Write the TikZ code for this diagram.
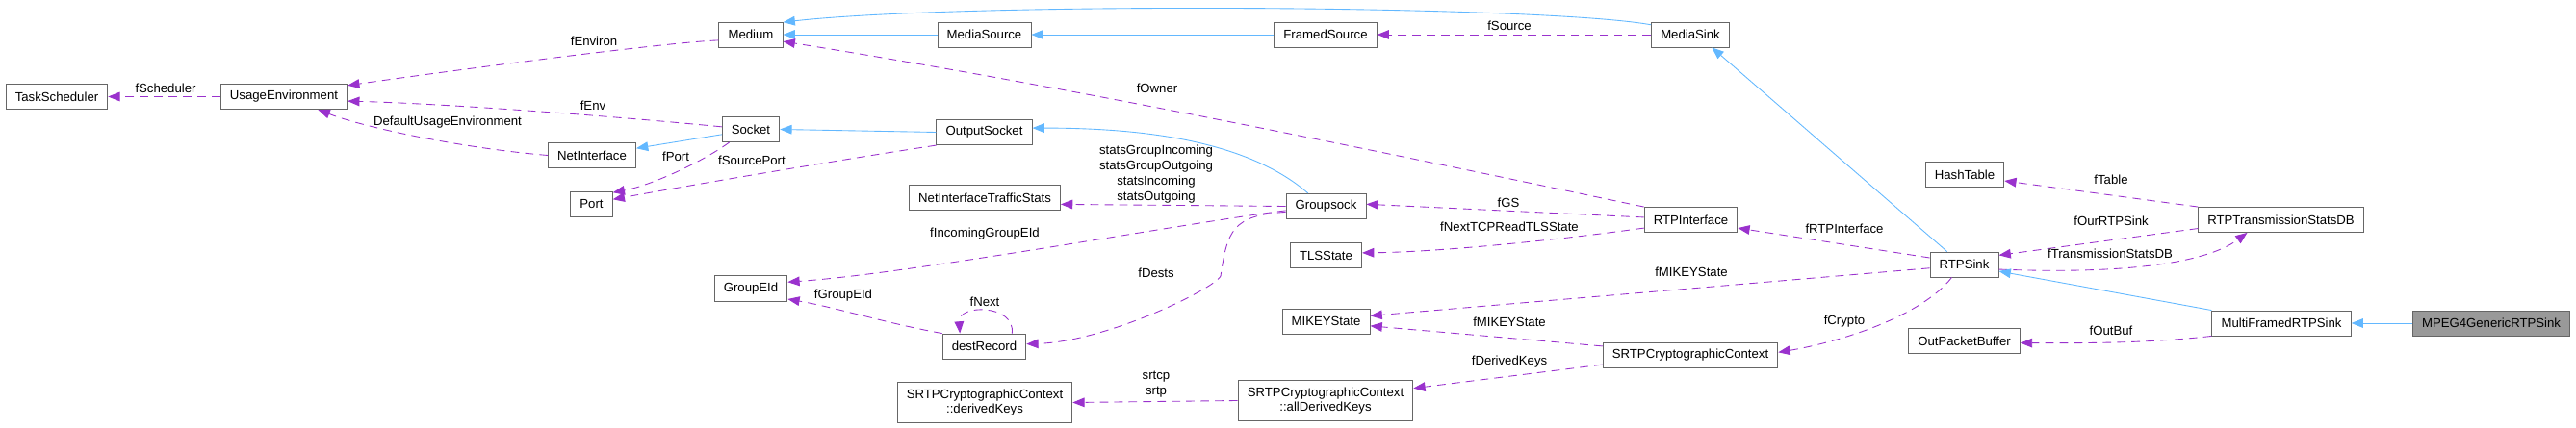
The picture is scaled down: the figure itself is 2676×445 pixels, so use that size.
\documentclass[tikz,border=0pt]{standalone}
\usepackage{fontspec}
\setmainfont{Liberation Sans}
\usepackage{xcolor}
\usepackage{tikz}
\usetikzlibrary{arrows.meta}
\definecolor{memc}{HTML}{9A32CD}
\definecolor{inhc}{HTML}{63B8FF}
\definecolor{framec}{HTML}{666666}
\definecolor{selfc}{HTML}{999999}
\tikzset{
  cls/.style={draw=framec,fill=white,line width=0.5pt,font=\fontsize{7.5}{9}\selectfont,align=center,inner xsep=5.5pt,inner ysep=4pt,minimum height=0.52cm},
  selfcls/.style={cls,fill=selfc},
  inh/.style={-{Triangle[length=7pt,width=5.5pt]},inhc,line width=0.5pt},
  mem/.style={-{Triangle[length=7pt,width=5.5pt]},memc,line width=0.5pt,dash pattern=on 5pt off 3.5pt},
  lbl/.style={font=\fontsize{7.5}{9}\selectfont,align=center,inner sep=0pt}
}

\begin{document}
\begin{tikzpicture}[x=0.02cm,y=-0.02cm]
\useasboundingbox (0,0) rectangle (2676,445);
\node[cls] (ts) at (59,100.5) {TaskScheduler};
\node[cls] (uenv) at (295,100.5) {UsageEnvironment};
\node[cls] (medium) at (780,36) {Medium};
\node[cls] (socket) at (780,134.5) {Socket};
\node[cls] (netif) at (615,161.5) {NetInterface};
\node[cls] (port) at (614.5,212) {Port};
\node[cls] (geid) at (780,300) {GroupEId};
\node[cls] (msrc) at (1022.5,36) {MediaSource};
\node[cls] (osock) at (1022.5,137.5) {OutputSocket};
\node[cls] (nits) at (1023,205.5) {NetInterfaceTrafficStats};
\node[cls] (drec) at (1022.5,360) {destRecord};
\node[cls] (dkeys) at (1023,418.5) {SRTPCryptographicContext\\::derivedKeys};
\node[cls] (fsrc) at (1377,36) {FramedSource};
\node[cls] (gsock) at (1377.5,214.5) {Groupsock};
\node[cls] (tls) at (1377.5,265.5) {TLSState};
\node[cls] (mikey) at (1377.5,334) {MIKEYState};
\node[cls] (adkeys) at (1377,416.5) {SRTPCryptographicContext\\::allDerivedKeys};
\node[cls] (msink) at (1756,36) {MediaSink};
\node[cls] (rtpif) at (1756.5,228.5) {RTPInterface};
\node[cls] (srtp) at (1756,369.5) {SRTPCryptographicContext};
\node[cls] (htab) at (2041,181.5) {HashTable};
\node[cls] (rtpsink) at (2040.5,275) {RTPSink};
\node[cls] (opb) at (2040.5,354.5) {OutPacketBuffer};
\node[cls] (rtsdb) at (2369.5,228.5) {RTPTransmissionStatsDB};
\node[cls] (mfsink) at (2370,336) {MultiFramedRTPSink};
\node[selfcls] (mpeg4) at (2588,336) {MPEG4GenericRTPSink};

\draw[mem] (uenv.west) -- (ts.east);
\draw[mem] (medium.190) .. controls (690,44) and (450,76) .. (uenv.10);
\draw[mem] (socket.175) .. controls (650,122) and (470,108) .. (uenv.-4);
\draw[mem] (netif.west) .. controls (480,154) and (380,133) .. (uenv.-21);
\draw[inh] (msrc.west) -- (medium.east);
\draw[inh] (msink.166) .. controls (1600,5) and (1000,2) .. (medium.21);
\draw[mem] (rtpif.north west) .. controls (1407,152) and (1114,91) .. (medium.-12);
\draw[inh] (fsrc.west) -- (msrc.east);
\draw[mem] (msink.west) -- (fsrc.east);
\draw[inh] (socket.190) -- (netif.9);
\draw[inh] (osock.west) -- (socket.east);
\draw[mem] (socket.211) .. controls (735,165) and (680,192) .. (port.28);
\draw[mem] (osock.south west) .. controls (880,165) and (720,192) .. (port.12);
\draw[inh] (gsock.144) .. controls (1300,150) and (1200,133) .. (osock.5);
\draw[mem] (gsock.180) -- (nits.-5);
\draw[mem] (gsock.186) .. controls (1230,232) and (950,284) .. (geid.10);
\draw[mem] (gsock.188) .. controls (1280,224) and (1275,240) .. (1268,287)
  .. controls (1262,300) and (1150,355) .. (drec.3);
\draw[mem] (drec.north west) .. controls (920,336) and (870,320) .. (geid.-16);
\draw[mem] (drec.25) .. controls (1055,316) and (995,316) .. (drec.152);
\draw[mem] (rtpif.177) -- (gsock.3);
\draw[mem] (rtpif.190) .. controls (1630,248) and (1500,262) .. (tls.4);
\draw[mem] (rtpsink.169) -- (rtpif.-10);
\draw[inh] (rtpsink.143) -- (msink.-31);
\draw[mem] (rtpsink.186) -- (mikey.7);
\draw[mem] (srtp.174) -- (mikey.-6);
\draw[mem] (rtpsink.226) .. controls (1995,330) and (1909,356) .. (srtp.2);
\draw[mem] (srtp.186.5) -- (adkeys.8);
\draw[mem] (adkeys.west) -- (dkeys.east);
\draw[mem] (rtsdb.north west) -- (htab.-9);
\draw[mem] (rtsdb.186) -- (rtpsink.15);
\draw[mem] (rtpsink.-8) .. controls (2200,285) and (2290,275) .. (rtsdb.201);
\draw[inh] (mfsink.north west) -- (rtpsink.-11);
\draw[mem] (mfsink.south west) .. controls (2240,356) and (2180,357) .. (opb.-2);
\draw[inh] (mpeg4.west) -- (mfsink.east);

\node[lbl] (lsched) at (172,92) {fScheduler};
\node[lbl] (lenviron) at (617,43) {fEnviron};
\node[lbl] (lenv) at (616,110) {fEnv};
\node[lbl] (ldefenv) at (465,127) {DefaultUsageEnvironment};
\node[lbl] (lport) at (702,163) {fPort};
\node[lbl] (lsrcport) at (781,167) {fSourcePort};
\node[lbl] (lowner) at (1202,92) {fOwner};
\node[lbl] (lsource) at (1568,27) {fSource};
\node[lbl] (lstats) at (1201,181) {statsGroupIncoming\\statsGroupOutgoing\\statsIncoming\\statsOutgoing};
\node[lbl] (lincgeid) at (1023,243) {fIncomingGroupEId};
\node[lbl] (ldests) at (1201,284) {fDests};
\node[lbl] (lgeid) at (876,307) {fGroupEId};
\node[lbl] (lnext) at (1023,314) {fNext};
\node[lbl] (lsrtp) at (1201,400) {srtcp\\srtp};
\node[lbl] (lgs) at (1567,211) {fGS};
\node[lbl] (ltls) at (1568,236) {fNextTCPReadTLSState};
\node[lbl] (lmikeyb) at (1568,335) {fMIKEYState};
\node[lbl] (lmikeya) at (1757,283) {fMIKEYState};
\node[lbl] (lderkeys) at (1568,376) {fDerivedKeys};
\node[lbl] (lrtpif) at (1916,238) {fRTPInterface};
\node[lbl] (lcrypto) at (1916,334) {fCrypto};
\node[lbl] (ltable) at (2193,187) {fTable};
\node[lbl] (lourrtp) at (2193,230) {fOurRTPSink};
\node[lbl] (ltsdb) at (2192,264) {fTransmissionStatsDB};
\node[lbl] (loutbuf) at (2193,344) {fOutBuf};
\end{tikzpicture}
\end{document}
